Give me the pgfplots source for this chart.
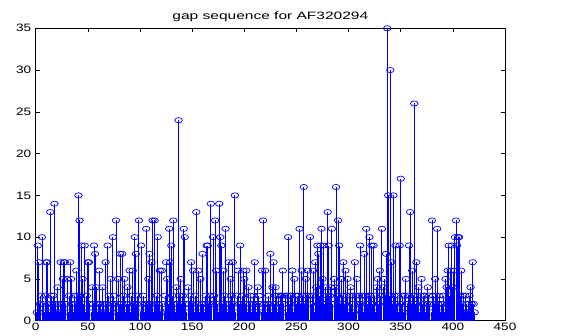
\documentclass[border=0pt]{standalone}
\usepackage{pgfplots}
\pgfplotsset{compat=1.18}
\usepackage{pgfplotstable}
\usepackage{fontspec}
\setmainfont{Liberation Sans}
\pgfplotstableread[row sep=\\]{
y\\
1\\ 9\\ 7\\ 2\\ 3\\ 10\\ 2\\ 1\\ 3\\ 7\\ 7\\ 2\\ 1\\ 13\\ 3\\ 2\\ 3\\ 14\\ 2\\ 1\\
4\\ 2\\ 1\\ 7\\ 2\\ 5\\ 7\\ 7\\ 2\\ 5\\ 1\\ 3\\ 7\\ 5\\ 2\\ 1\\ 3\\ 2\\ 6\\ 3\\
15\\ 12\\ 3\\ 9\\ 5\\ 2\\ 9\\ 1\\ 3\\ 7\\ 7\\ 2\\ 1\\ 4\\ 2\\ 9\\ 8\\ 4\\ 1\\ 2\\
6\\ 2\\ 1\\ 4\\ 2\\ 1\\ 7\\ 2\\ 9\\ 3\\ 1\\ 5\\ 2\\ 10\\ 3\\ 2\\ 12\\ 1\\ 5\\ 2\\
8\\ 2\\ 8\\ 3\\ 5\\ 1\\ 2\\ 4\\ 2\\ 6\\ 1\\ 3\\ 6\\ 2\\ 10\\ 8\\ 2\\ 3\\ 12\\ 1\\
9\\ 2\\ 3\\ 1\\ 2\\ 11\\ 2\\ 5\\ 8\\ 2\\ 7\\ 12\\ 1\\ 12\\ 2\\ 3\\ 10\\ 2\\ 6\\ 1\\
6\\ 2\\ 1\\ 3\\ 7\\ 5\\ 2\\ 11\\ 7\\ 9\\ 3\\ 12\\ 2\\ 1\\ 4\\ 2\\ 24\\ 3\\ 5\\ 2\\
3\\ 11\\ 10\\ 2\\ 1\\ 4\\ 2\\ 3\\ 7\\ 2\\ 6\\ 1\\ 3\\ 13\\ 2\\ 6\\ 1\\ 5\\ 2\\ 8\\
2\\ 1\\ 3\\ 9\\ 9\\ 2\\ 3\\ 14\\ 2\\ 10\\ 3\\ 12\\ 6\\ 2\\ 1\\ 14\\ 10\\ 9\\ 2\\ 6\\
3\\ 11\\ 2\\ 1\\ 7\\ 2\\ 5\\ 3\\ 7\\ 2\\ 15\\ 1\\ 3\\ 6\\ 2\\ 9\\ 2\\ 3\\ 6\\ 5\\
2\\ 6\\ 1\\ 4\\ 2\\ 3\\ 1\\ 2\\ 3\\ 7\\ 2\\ 1\\ 4\\ 3\\ 2\\ 1\\ 6\\ 12\\ 2\\ 6\\
1\\ 2\\ 3\\ 2\\ 8\\ 1\\ 4\\ 7\\ 2\\ 4\\ 3\\ 1\\ 3\\ 2\\ 3\\ 3\\ 6\\ 2\\ 3\\ 1\\
3\\ 10\\ 2\\ 3\\ 3\\ 6\\ 1\\ 5\\ 3\\ 2\\ 3\\ 3\\ 11\\ 2\\ 6\\ 3\\ 16\\ 2\\ 5\\ 3\\
6\\ 3\\ 10\\ 2\\ 3\\ 6\\ 1\\ 7\\ 4\\ 9\\ 8\\ 3\\ 9\\ 11\\ 5\\ 9\\ 2\\ 4\\ 3\\ 13\\
9\\ 3\\ 4\\ 11\\ 2\\ 5\\ 4\\ 16\\ 3\\ 12\\ 9\\ 2\\ 5\\ 3\\ 7\\ 2\\ 6\\ 3\\ 5\\ 1\\
3\\ 4\\ 2\\ 3\\ 1\\ 7\\ 3\\ 5\\ 2\\ 3\\ 9\\ 2\\ 3\\ 1\\ 8\\ 3\\ 11\\ 2\\ 3\\ 10\\
3\\ 9\\ 2\\ 9\\ 3\\ 1\\ 4\\ 5\\ 2\\ 6\\ 3\\ 11\\ 4\\ 5\\ 3\\ 8\\ 35\\ 15\\ 3\\ 30\\
7\\ 2\\ 15\\ 3\\ 9\\ 2\\ 3\\ 1\\ 9\\ 17\\ 2\\ 3\\ 1\\ 3\\ 5\\ 2\\ 3\\ 9\\ 13\\ 2\\
6\\ 3\\ 26\\ 2\\ 7\\ 3\\ 4\\ 1\\ 3\\ 5\\ 2\\ 3\\ 3\\ 1\\ 2\\ 4\\ 3\\ 2\\ 1\\ 12\\
3\\ 2\\ 5\\ 3\\ 11\\ 2\\ 3\\ 1\\ 2\\ 2\\ 3\\ 1\\ 5\\ 4\\ 6\\ 9\\ 3\\ 6\\ 9\\ 4\\
6\\ 10\\ 12\\ 9\\ 10\\ 10\\ 3\\ 6\\ 2\\ 3\\ 1\\ 3\\ 2\\ 1\\ 2\\ 3\\ 4\\ 2\\ 7\\ 2\\ 1\\
}\gapdata
\begin{document}
\begin{tikzpicture}
\path[use as bounding box] (-35.7pt,-14.3pt) rectangle (528.3pt,320.7pt);
\begin{axis}[
  at={(0,0)}, anchor=south west,
  scale only axis, width=469.3pt, height=292.4pt,
  xmin=0, xmax=450, ymin=0, ymax=35,
  xtick={0,50,...,450}, ytick={0,5,...,35},
  tick align=inside, tick pos=both, major tick length=4pt,
  axis line style={black, line width=0.6pt},
  tick style={black, line width=0.5pt},
  ticklabel style={font=\fontsize{10.7}{12}\selectfont, xscale=1.27},
  xticklabel style={yshift=1pt},
  /pgf/number format/assume math mode=true,
  title={gap sequence for AF320294},
  title style={font=\fontsize{10.7}{12}\selectfont, xscale=1.45, yshift=-3pt},
  clip=false,
]
\addplot+[ycomb, color=blue, line width=0.9pt, mark=o,
  mark options={xscale=1.3, yscale=0.9, line width=0.7pt, fill=none}, mark size=2.9pt]
  table[x expr=\coordindex+1, y=y] {\gapdata};
\end{axis}
\end{tikzpicture}
\end{document}
